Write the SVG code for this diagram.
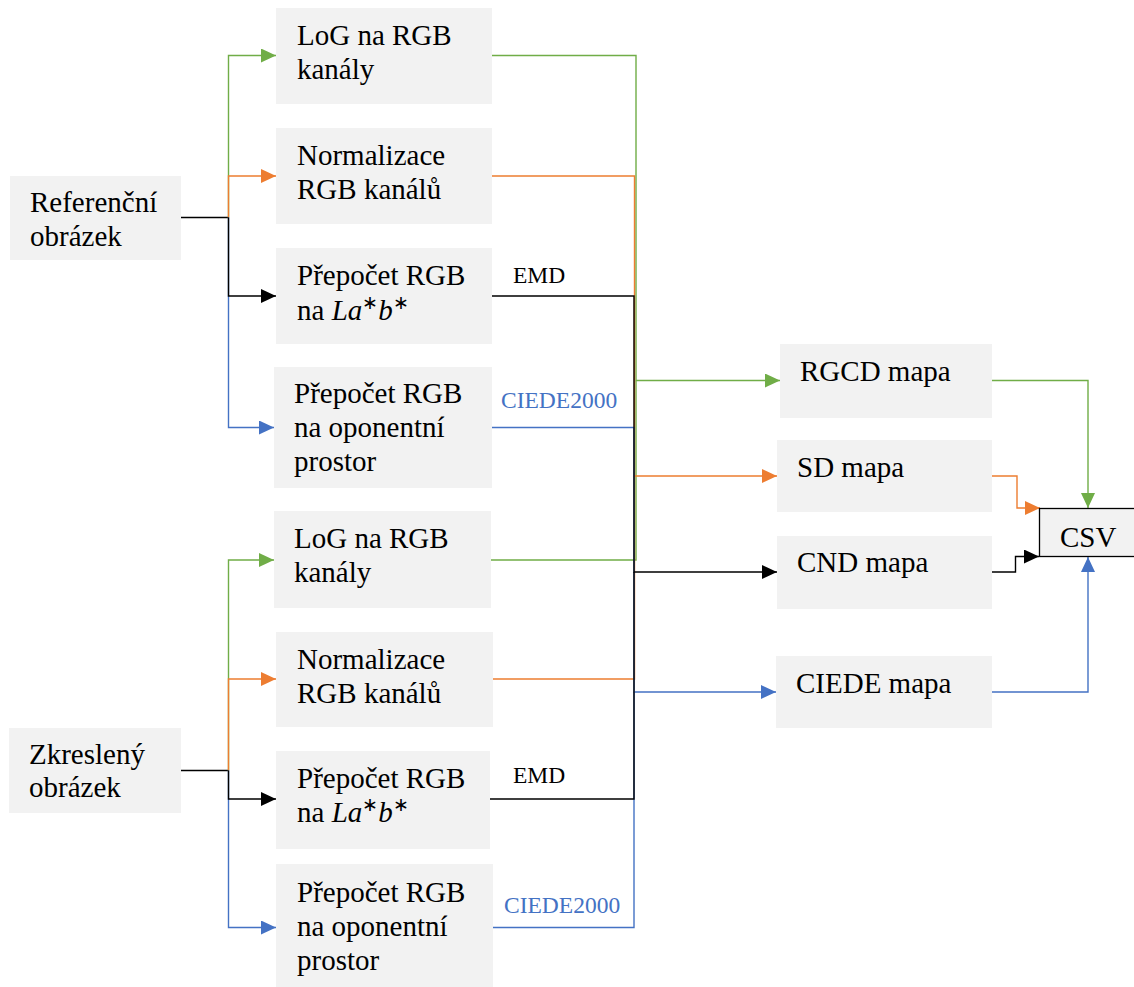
<svg xmlns="http://www.w3.org/2000/svg" width="1134" height="987" viewBox="0 0 1134 987">
  <defs>
    <style>
      .box { fill: #F2F2F2; }
      .txt { font-family: 'Liberation Serif', 'Times New Roman', serif; font-size: 29px; fill: #000000; }
      .lbl { font-family: 'Liberation Serif', 'Times New Roman', serif; font-size: 23.5px; }
      .it { font-style: italic; }
      .sup { font-size: 19px; }
      .ln { fill: none; stroke-width: 1.4; }
      .g { stroke: #70AD47; }
      .o { stroke: #ED7D31; }
      .k { stroke: #000000; }
      .b { stroke: #4472C4; }
    </style>
    <marker id="ag" viewBox="0 0 15 14" refX="15" refY="7" markerWidth="15" markerHeight="14" markerUnits="userSpaceOnUse" orient="auto">
      <path d="M0,0 L15,7 L0,14 Z" fill="#70AD47"/>
    </marker>
    <marker id="ao" viewBox="0 0 15 14" refX="15" refY="7" markerWidth="15" markerHeight="14" markerUnits="userSpaceOnUse" orient="auto">
      <path d="M0,0 L15,7 L0,14 Z" fill="#ED7D31"/>
    </marker>
    <marker id="ak" viewBox="0 0 15 14" refX="15" refY="7" markerWidth="15" markerHeight="14" markerUnits="userSpaceOnUse" orient="auto">
      <path d="M0,0 L15,7 L0,14 Z" fill="#000"/>
    </marker>
    <marker id="ab" viewBox="0 0 15 14" refX="15" refY="7" markerWidth="15" markerHeight="14" markerUnits="userSpaceOnUse" orient="auto">
      <path d="M0,0 L15,7 L0,14 Z" fill="#4472C4"/>
    </marker>
  </defs>

  <rect width="1134" height="987" fill="#fff"/>

  <!-- connectors -->
  <g id="connectors">
    <!-- reference image fan-out -->
    <path class="ln k" d="M181,217.5 H229"/>
    <path class="ln g" d="M228.5,217.5 V55.5 H276" marker-end="url(#ag)"/>
    <path class="ln o" d="M228.5,217.5 V176 H276" marker-end="url(#ao)"/>
    <path class="ln b" d="M228.5,217.5 V427.5 H274" marker-end="url(#ab)"/>
    <path class="ln k" d="M228.5,217.5 V296 H276" marker-end="url(#ak)"/>

    <!-- distorted image fan-out -->
    <path class="ln k" d="M181,770.5 H229"/>
    <path class="ln g" d="M228.5,770.5 V560 H274" marker-end="url(#ag)"/>
    <path class="ln o" d="M228.5,770.5 V679 H276" marker-end="url(#ao)"/>
    <path class="ln b" d="M228.5,770.5 V927.5 H276" marker-end="url(#ab)"/>
    <path class="ln k" d="M228.5,770.5 V799 H276" marker-end="url(#ak)"/>

    <!-- processing outputs merged into maps -->
    <path class="ln g" d="M492,55.5 H636 V380.5 H780" marker-end="url(#ag)"/>
    <path class="ln g" d="M491,560 H636 V380.5"/>
    <path class="ln o" d="M492,176 H634.5 V476 H777" marker-end="url(#ao)"/>
    <path class="ln o" d="M493,679 H634.5 V476"/>
    <path class="ln b" d="M492,427.5 H634 V692 H776" marker-end="url(#ab)"/>
    <path class="ln b" d="M493,927.5 H634 V692"/>
    <path class="ln k" d="M492,296 H634 V572 H777" marker-end="url(#ak)"/>
    <path class="ln k" d="M490,799 H634 V572"/>

    <!-- maps into CSV -->
    <path class="ln g" d="M992,380.5 H1088 V508" marker-end="url(#ag)"/>
    <path class="ln o" d="M992,476 H1017 V508 H1040" marker-end="url(#ao)"/>
    <path class="ln k" d="M992,572 H1015.5 V556.5 H1039" marker-end="url(#ak)"/>
    <path class="ln b" d="M992,692 H1088 V557" marker-end="url(#ab)"/>

    <text class="lbl" x="513" y="283" fill="#000">EMD</text>
    <text class="lbl" x="501" y="408" fill="#4472C4">CIEDE2000</text>
    <text class="lbl" x="513" y="783" fill="#000">EMD</text>
    <text class="lbl" x="504" y="913" fill="#4472C4">CIEDE2000</text>
  </g>

  <!-- inputs -->
  <g id="ref-image">
    <rect class="box" x="10" y="176" width="171" height="84"/>
    <text class="txt" x="30" y="212">Referenční</text>
    <text class="txt" x="30" y="246">obrázek</text>
  </g>
  <g id="dist-image">
    <rect class="box" x="9" y="728" width="172" height="85"/>
    <text class="txt" x="29" y="764">Zkreslený</text>
    <text class="txt" x="29" y="797">obrázek</text>
  </g>

  <!-- processing steps, reference branch -->
  <g id="ref-log">
    <rect class="box" x="276" y="8" width="216" height="96"/>
    <text class="txt" x="297" y="45">LoG na RGB</text>
    <text class="txt" x="297" y="79">kanály</text>
  </g>
  <g id="ref-norm">
    <rect class="box" x="276" y="128" width="216" height="96"/>
    <text class="txt" x="297" y="165">Normalizace</text>
    <text class="txt" x="297" y="199">RGB kanálů</text>
  </g>
  <g id="ref-lab">
    <rect class="box" x="276" y="248" width="216" height="96"/>
    <text class="txt" x="297" y="285">Přepočet RGB</text>
    <text class="txt" x="297" y="320">na <tspan class="it">La</tspan><tspan class="sup" dy="-11">∗</tspan><tspan class="it" dy="11">b</tspan><tspan class="sup" dy="-11">∗</tspan></text>
  </g>
  <g id="ref-opp">
    <rect class="box" x="274" y="367" width="218" height="121"/>
    <text class="txt" x="294" y="403">Přepočet RGB</text>
    <text class="txt" x="294" y="437">na oponentní</text>
    <text class="txt" x="294" y="471">prostor</text>
  </g>

  <!-- processing steps, distorted branch -->
  <g id="dist-log">
    <rect class="box" x="274" y="511" width="217" height="97"/>
    <text class="txt" x="294" y="548">LoG na RGB</text>
    <text class="txt" x="294" y="582">kanály</text>
  </g>
  <g id="dist-norm">
    <rect class="box" x="276" y="632" width="217" height="95"/>
    <text class="txt" x="297" y="669">Normalizace</text>
    <text class="txt" x="297" y="703">RGB kanálů</text>
  </g>
  <g id="dist-lab">
    <rect class="box" x="276" y="751" width="214" height="98"/>
    <text class="txt" x="297" y="788">Přepočet RGB</text>
    <text class="txt" x="297" y="822">na <tspan class="it">La</tspan><tspan class="sup" dy="-11">∗</tspan><tspan class="it" dy="11">b</tspan><tspan class="sup" dy="-11">∗</tspan></text>
  </g>
  <g id="dist-opp">
    <rect class="box" x="276" y="864" width="217" height="123"/>
    <text class="txt" x="297" y="902">Přepočet RGB</text>
    <text class="txt" x="297" y="936">na oponentní</text>
    <text class="txt" x="297" y="970">prostor</text>
  </g>

  <!-- maps -->
  <g id="map-rgcd">
    <rect class="box" x="780" y="344" width="212" height="74"/>
    <text class="txt" x="800" y="381">RGCD mapa</text>
  </g>
  <g id="map-sd">
    <rect class="box" x="777" y="440" width="215" height="72"/>
    <text class="txt" x="797" y="477">SD mapa</text>
  </g>
  <g id="map-cnd">
    <rect class="box" x="777" y="536" width="215" height="73"/>
    <text class="txt" x="797" y="572">CND mapa</text>
  </g>
  <g id="map-ciede">
    <rect class="box" x="776" y="656" width="216" height="72"/>
    <text class="txt" x="796" y="693">CIEDE mapa</text>
  </g>

  <!-- output -->
  <g id="csv">
    <rect x="1039.5" y="508.5" width="100" height="48" fill="#F2F2F2" stroke="#000" stroke-width="1.3"/>
    <text class="txt" x="1060" y="547">CSV</text>
  </g>
</svg>
